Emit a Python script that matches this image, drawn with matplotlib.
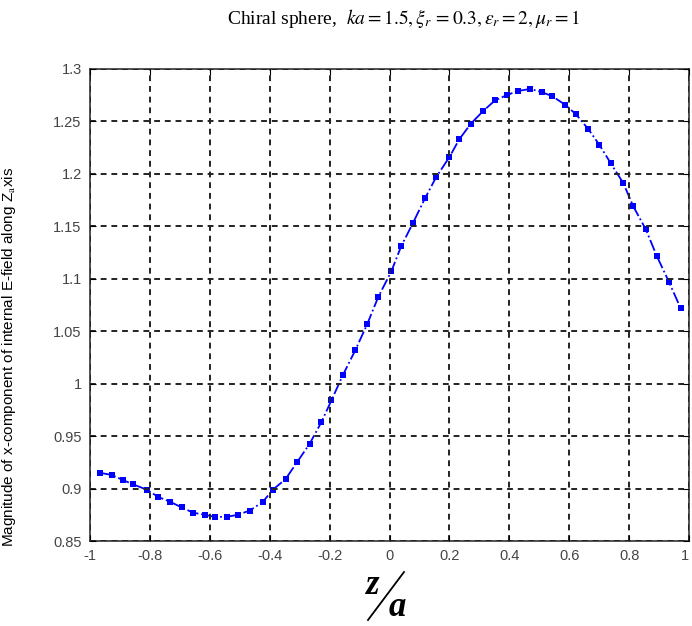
import matplotlib
matplotlib.use("Agg")
import matplotlib.pyplot as plt
from matplotlib.lines import Line2D

# z/a positions and |Ex|
z = [-0.967, -0.928, -0.889, -0.856, -0.811, -0.772, -0.733, -0.694, -0.656, -0.617,
     -0.583, -0.544, -0.506, -0.467, -0.424, -0.389, -0.347, -0.309, -0.267, -0.228,
     -0.194, -0.156, -0.114, -0.074, -0.037, 0.006, 0.039, 0.078, 0.119, 0.156,
     0.200, 0.233, 0.272, 0.313, 0.352, 0.391, 0.428, 0.470, 0.508, 0.544,
     0.586, 0.622, 0.663, 0.700, 0.739, 0.781, 0.814, 0.856, 0.892, 0.933, 0.972]
ex = [0.915, 0.913, 0.908, 0.904, 0.899, 0.892, 0.8875, 0.882, 0.877, 0.875,
      0.873, 0.873, 0.875, 0.879, 0.887, 0.899, 0.909, 0.925, 0.9425, 0.963,
      0.984, 1.008, 1.032, 1.057, 1.083, 1.107, 1.131, 1.153, 1.177, 1.197,
      1.216, 1.233, 1.248, 1.260, 1.270, 1.275, 1.279, 1.281, 1.278, 1.274,
      1.266, 1.257, 1.243, 1.228, 1.210, 1.191, 1.169, 1.147, 1.122, 1.097, 1.072]

xticks = [-1, -0.8, -0.6, -0.4, -0.2, 0, 0.2, 0.4, 0.6, 0.8, 1]
xtick_labels = ["-1", "-0.8", "-0.6", "-0.4", "-0.2", "0", "0.2", "0.4", "0.6", "0.8", "1"]
yticks = [0.85, 0.9, 0.95, 1.0, 1.05, 1.1, 1.15, 1.2, 1.25, 1.3]
ytick_labels = ["0.85", "0.9", "0.95", "1", "1.05", "1.1", "1.15", "1.2", "1.25", "1.3"]

plt.rcParams['mathtext.fontset'] = 'stix'

fig = plt.figure(figsize=(6.92, 6.26), dpi=100)
ax = fig.add_axes([90 / 692, 1 - 541 / 626, 599 / 692, 472 / 626])

ax.plot(z, ex, color='#0000ff', linestyle='-.', linewidth=1.3,
        marker='s', markersize=4.5, markeredgewidth=0)

ax.set_xlim(-1, 1)
ax.set_ylim(0.85, 1.3)
ax.set_xticks(xticks)
ax.set_xticklabels(xtick_labels)
ax.set_yticks(yticks)
ax.set_yticklabels(ytick_labels)
ax.tick_params(direction='in', top=True, right=True, length=4, width=0.8,
               labelsize=10.5, labelcolor='#444444', pad=6)
for lbl in ax.get_xticklabels() + ax.get_yticklabels():
    lbl.set_family('Liberation Sans')
# keep the last x label inside the figure
ax.get_xticklabels()[-1].set_horizontalalignment('right')
for s in ax.spines.values():
    s.set_color('#222222')
    s.set_linewidth(1.1)

ax.grid(True, color='#222222', linestyle=(0, (3, 2.5)), linewidth=1.4)
ax.set_axisbelow(False)

ax.set_ylabel('Magnitude of x-component of internal E-field along Z$_{\\mathrm{a}}$xis',
              fontsize=11, family='Liberation Sans')
ax.yaxis.set_label_coords(-0.12, 0.39)

fig.text(404 / 692, 1 - 18 / 626,
         r'Chiral sphere,  $ka = 1.5, \xi_r\, = 0.3, \varepsilon_r = 2, \mu_r = 1$',
         ha='center', va='center', fontsize=14, family='Liberation Serif')

# z/a label drawn as a slashed fraction
fig.text(373 / 692, 1 - 586 / 626, 'z', fontsize=25, weight='bold', style='italic',
         family='Liberation Serif', ha='center', va='center')
fig.text(397 / 692, 1 - 608 / 626, 'a', fontsize=25, weight='bold', style='italic',
         family='Liberation Serif', ha='center', va='center')
fig.add_artist(Line2D([368 / 692, 404 / 692], [1 - 620 / 626, 1 - 572 / 626],
                      transform=fig.transFigure, color='black', linewidth=1.3))

fig.savefig('out.png', dpi=100)
